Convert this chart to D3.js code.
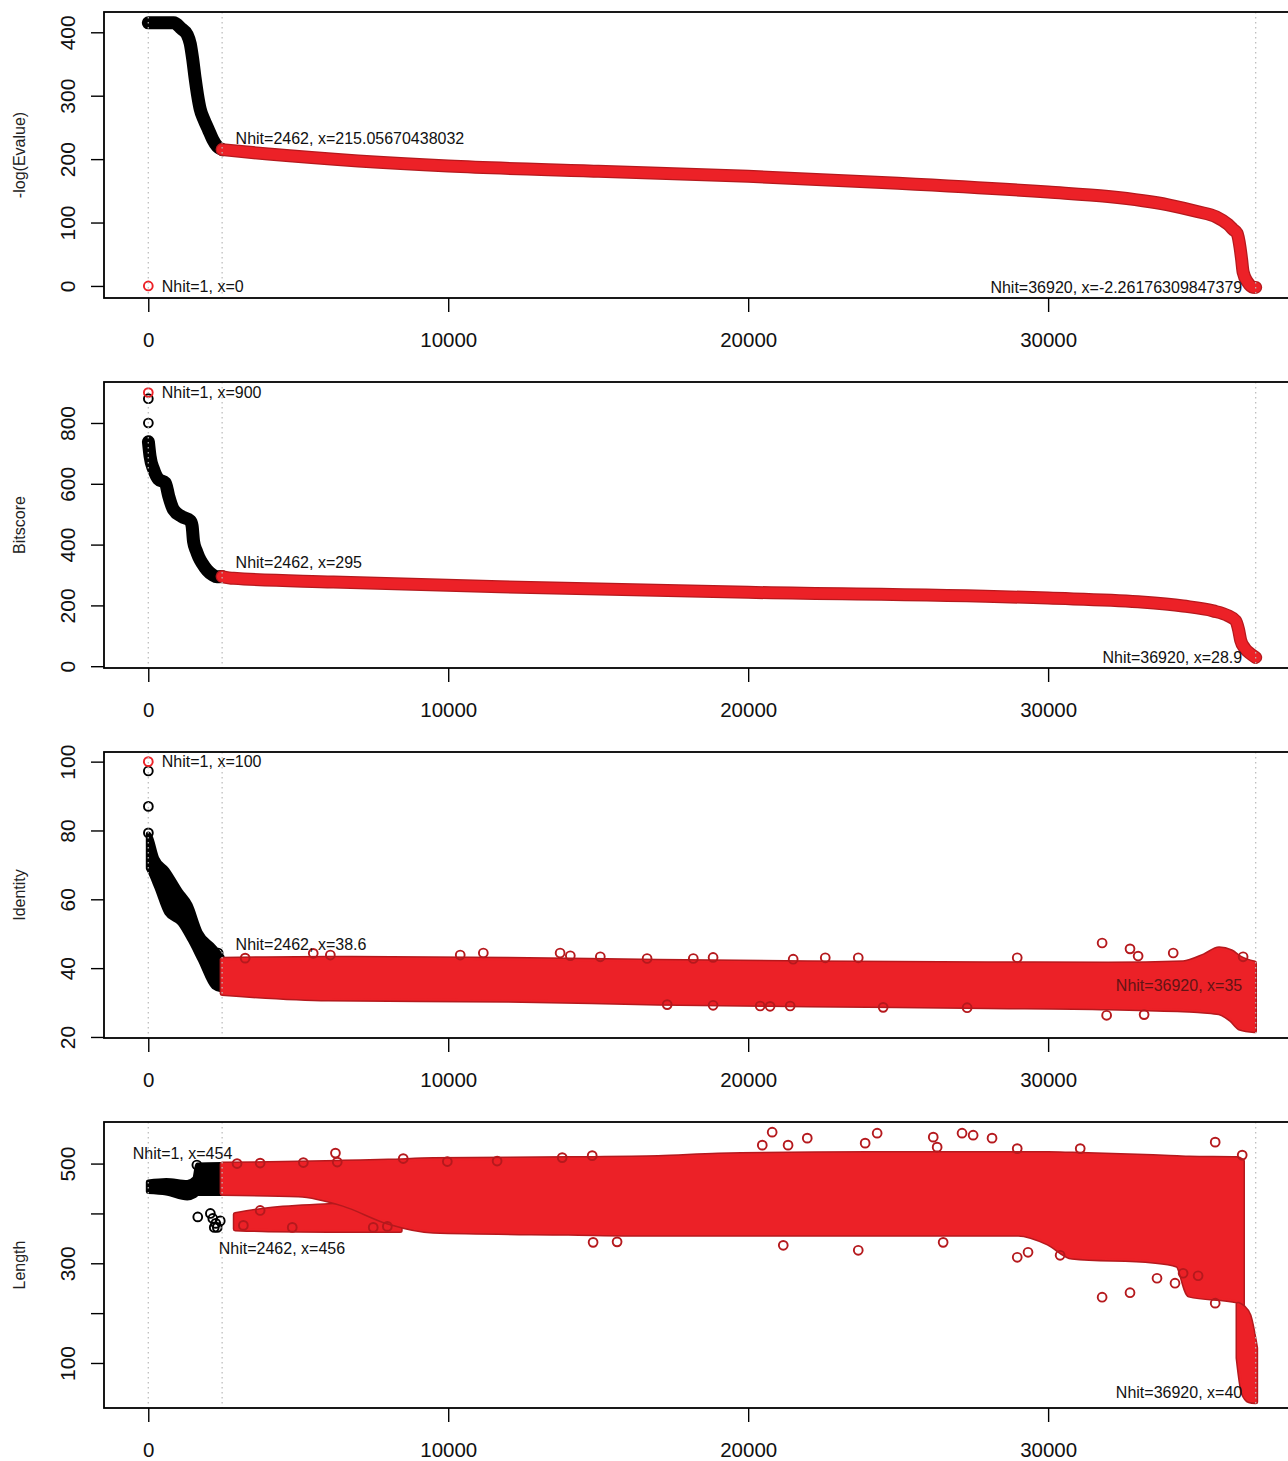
<!DOCTYPE html>
<html>
<head>
<meta charset="utf-8">
<script src="https://cdn.jsdelivr.net/npm/d3@7"></script>
<style>
  body { margin: 0; background: #fff; }
  text { font-family: "Liberation Sans", Arial, Helvetica, sans-serif; }
</style>
</head>
<body>
<div id="chart"></div>
<script>
// ---- data ----
var rankTicks = [0, 10000, 20000, 30000];
var guideRanks = [0, 2462, 36920];

// -log(Evalue) by hit rank
var evalueTicks = [0, 100, 200, 300, 400];
var evalueFirst = [[1, 0]];
var evalueBlack = [[1,415],[850,415],[1100,406],[1300,396],[1400,382],[1480,358],[1560,328],[1640,302],[1730,279],
                   [1850,263],[2000,247],[2150,231],[2300,220],[2462,215]];
var evalueRed = [[2462,215],[4000,208],[7000,197],[10000,189],[15000,181],[20000,173],[25000,162],[30000,148],
                 [32000,141],[34000,128],[35000,117],[35600,109],[36000,97],[36170,89],[36300,83],[36400,60],
                 [36450,42],[36500,22],[36650,6],[36830,-2],[36920,-2.26]];
var evalueNotes = [[1, 0, "Nhit=1, x=0", 4], [2462, 232, "Nhit=2462, x=215.05670438032", 4],
                   [36920, -2.26, "Nhit=36920, x=-2.26176309847379", 2]];

// Bitscore by hit rank
var bitTicks = [0, 200, 400, 600, 800];
var bitFirst = [[1, 900]];
var bitTopBlack = [[2, 880], [3, 800]];
var bitBlack = [[5,738],[60,690],[180,647],[340,615],[570,603],[680,560],[840,515],[1120,492],[1400,478],[1460,462],
                [1510,410],[1600,380],[1680,360],[1800,338],[1960,316],[2150,300],[2290,294],[2462,295]];
var bitRed = [[2462,295],[2840,289],[6170,277],[11730,261],[20000,243],[30000,224],[33000,212],[34500,198],
              [35500,182],[36000,166],[36250,150],[36350,120],[36420,85],[36550,60],[36730,42],[36920,28.9]];
var bitNotes = [[1, 900, "Nhit=1, x=900", 4], [2462, 343, "Nhit=2462, x=295", 4],
                [36920, 28.9, "Nhit=36920, x=28.9", 2]];

// Identity by hit rank: [rank, low, high] for the dense clouds
var identTicks = [20, 40, 60, 80, 100];
var identFirst = [[1, 100]];
var identTopBlack = [[2,97.3],[3,87],[4,79.3],[2330,44.4]];
var identBlackBand = [[1,69,79],[60,68,78.3],[280,63.5,72],[620,56,68.6],[1060,53,62.5],[1390,48.2,58.5],
                      [1730,42.4,50.5],[2180,34.6,46.2],[2462,33.6,43.3]];
var identRedBand = [[2462,32.6,42.6],[6000,31,42.9],[12000,30.7,42.6],[17000,29.8,42],[22000,29.3,41.6],[28000,28.8,41.3],
                    [32000,28.4,41.2],[34500,27.8,41.6],[35200,27.5,43.6],[35700,27,45.6],[36100,25,44.8],[36400,22.5,43],
                    [36880,21.8,41.5]];
var identRedOut = [[3230,42.9],[5500,44.3],[6070,43.8],[10400,43.8],[11170,44.4],[13730,44.4],[14070,43.6],[15070,43.3],
                   [16630,42.8],[18170,42.8],[18830,43.1],[21500,42.6],[22570,43],[23670,43],[28970,43],[31800,47.3],
                   [32730,45.6],[33000,43.5],[34170,44.4],[36500,43.3],
                   [17300,29.4],[18830,29.2],[20400,29],[20730,28.9],[21400,29],[24500,28.6],[27300,28.5],
                   [31950,26.3],[33200,26.5]];
var identNotes = [[1, 100, "Nhit=1, x=100", 4], [2462, 47, "Nhit=2462, x=38.6", 4],
                  [36920, 35, "Nhit=36920, x=35", 2]];

// Length by hit rank
var lengthTicks = [100, 200, 300, 400, 500];
var lengthTickText = ["100", "", "300", "", "500"];
var lengthBlackBand = [[1,444,463],[600,441,466],[1300,431,462],[1550,436,470],[1650,440,497],[2462,440,498]];
var lengthBlackOut = [[1620,497],[1650,393],[2070,400],[2150,390],[2200,372],[2250,380],[2300,372],[2400,385]];
var lengthRedBand = [[2462,440,499],[5000,437,501],[6500,418,503],[8000,382,505],[9500,364,508],[14000,360,510],
                     [17000,358,512],[19000,358,517],[24000,358,520],[29000,358,520],[30000,340,520],[30800,312,519],
                     [33500,304,514],[34300,296,512],[34700,236,511],[36300,224,510],[36480,214,505]];
var lengthRedLow = [[2900,369,398],[4000,367,408],[6000,366,416],[8400,366,420]];
var lengthRedTail = [[36330,110,218],[36500,40,212],[36700,24,195],[36920,22,130]];
var lengthRedOut = [[2960,500],[3730,501],[5170,502],[6240,521],[6300,503],[8500,510],[9970,504],[11630,505],
                    [13800,512],[14800,516],[20470,537],[20800,563],[21330,537],[21970,551],
                    [23900,541],[24300,561],[26170,553],[26300,533],[27130,561],[27500,557],[28130,551],[28970,530],
                    [31070,530],[35570,543],[36470,517],
                    [3170,376],[3730,406],[4800,372],[7500,372],[7970,374],[14830,342],[15630,343],[21170,336],
                    [23670,326],[26500,342],[28970,312],[29330,322],[30400,316],[31800,232],[32730,241],[33630,270],
                    [34230,260],[35570,220],[34500,280],[35000,275]];
var lengthNotes = [[-970, 520, "Nhit=1, x=454", 4], [1900, 329.5, "Nhit=2462, x=456", 4],
                   [36920, 40, "Nhit=36920, x=40", 2]];

// ---- drawing ----
var W = 1288, H = 1461;
var RED = "#ec2127", RED_EDGE = "#b5191d", BLACK = "#000";

var svg = d3.select("#chart").append("svg").attr("width", W).attr("height", H);
var x = d3.scaleLinear().domain([-1476, 38397]).range([104, 1300]);

var panels = [
  { title: "-log(Evalue)", domain: [-19, 432], ticks: evalueTicks, tickText: evalueTicks.map(String),
    lines: [[evalueBlack, BLACK, BLACK], [evalueRed, RED, RED_EDGE]], bands: [],
    dots: [[evalueFirst, RED]], notes: evalueNotes },
  { title: "Bitscore", domain: [-5.9, 934.8], ticks: bitTicks, tickText: bitTicks.map(String),
    lines: [[bitBlack, BLACK, BLACK], [bitRed, RED, RED_EDGE]], bands: [],
    dots: [[bitTopBlack, BLACK], [bitFirst, RED]], notes: bitNotes },
  { title: "Identity", domain: [19.7, 102.8], ticks: identTicks, tickText: identTicks.map(String),
    lines: [], bands: [[identBlackBand, BLACK, BLACK], [identRedBand, RED, RED_EDGE]],
    dots: [[identTopBlack, BLACK], [identRedOut, RED_EDGE], [identFirst, RED]], notes: identNotes, dimLast: true },
  { title: "Length", domain: [9.7, 583.4], ticks: lengthTicks, tickText: lengthTickText,
    lines: [], bands: [[lengthBlackBand, BLACK, BLACK], [lengthRedLow, RED, RED_EDGE],
                       [lengthRedBand, RED, RED_EDGE], [lengthRedTail, RED, RED_EDGE]],
    dots: [[lengthBlackOut, BLACK], [lengthRedOut, RED_EDGE]], notes: lengthNotes }
];

panels.forEach(function(p, i) {
  var top = 12 + i * 370, bottom = top + 286;
  var y = d3.scaleLinear().domain(p.domain).range([bottom, top]);
  var g = svg.append("g");

  var clipId = "clip" + i;
  svg.append("clipPath").attr("id", clipId).append("rect")
    .attr("x", x.range()[0]).attr("y", top)
    .attr("width", x.range()[1] - x.range()[0]).attr("height", bottom - top);
  var plot = g.append("g").attr("clip-path", "url(#" + clipId + ")");

  // dense clouds as filled bands, edged like overlapping circles
  var area = d3.area()
    .x(function(d) { return x(d[0]); })
    .y0(function(d) { return y(d[1]); })
    .y1(function(d) { return y(d[2]); })
    .curve(d3.curveMonotoneX);
  p.bands.forEach(function(b) {
    plot.append("path").datum(b[0]).attr("d", area)
      .attr("fill", b[1]).attr("stroke", b[2]).attr("stroke-width", 5)
      .attr("stroke-linejoin", "round");
    plot.append("path").datum(b[0]).attr("d", area)
      .attr("fill", b[1]).attr("stroke", b[1]).attr("stroke-width", 2)
      .attr("stroke-linejoin", "round");
  });

  // sorted curves as thick strokes of overlapping circles
  var line = d3.line()
    .x(function(d) { return x(d[0]); })
    .y(function(d) { return y(d[1]); })
    .curve(d3.curveMonotoneX);
  p.lines.forEach(function(l) {
    plot.append("path").datum(l[0]).attr("d", line).attr("fill", "none")
      .attr("stroke", l[2]).attr("stroke-width", 13)
      .attr("stroke-linecap", "round").attr("stroke-linejoin", "round");
    plot.append("path").datum(l[0]).attr("d", line).attr("fill", "none")
      .attr("stroke", l[1]).attr("stroke-width", 10.5)
      .attr("stroke-linecap", "round").attr("stroke-linejoin", "round");
  });

  // single hits
  p.dots.forEach(function(s) {
    plot.append("g").selectAll("circle").data(s[0]).enter().append("circle")
      .attr("cx", function(d) { return x(d[0]); })
      .attr("cy", function(d) { return y(d[1]); })
      .attr("r", 4.4)
      .attr("fill", "none").attr("stroke", s[1]).attr("stroke-width", 1.9);
  });

  // guide lines
  g.append("g").selectAll("line").data(guideRanks).enter().append("line")
    .attr("x1", function(d) { return x(d); }).attr("x2", function(d) { return x(d); })
    .attr("y1", top).attr("y2", bottom)
    .attr("stroke", "#b9b9b9").attr("stroke-width", 1.2).attr("stroke-dasharray", "1.5,3.5");

  // notes
  g.append("g").selectAll("text").data(p.notes).enter().append("text")
    .attr("x", function(d) { return x(d[0]) + (d[3] === 4 ? 13.5 : -13.5); })
    .attr("y", function(d) { return y(d[1]); })
    .attr("dy", "0.35em")
    .attr("text-anchor", function(d) { return d[3] === 4 ? "start" : "end"; })
    .attr("fill", function(d, k) { return (p.dimLast && k === 2) ? "#4a1212" : "#111"; })
    .attr("opacity", function(d, k) { return (p.dimLast && k === 2) ? 0.85 : 1; })
    .style("font-size", "16px")
    .text(function(d) { return d[2]; });

  // frame
  g.append("rect").attr("x", x.range()[0]).attr("y", top)
    .attr("width", x.range()[1] - x.range()[0]).attr("height", bottom - top)
    .attr("fill", "none").attr("stroke", "#000").attr("stroke-width", 1.8);

  // y axis
  var ya = g.append("g").attr("transform", "translate(" + x.range()[0] + ",0)")
    .call(d3.axisLeft(y).tickValues(p.ticks).tickSize(13)
      .tickFormat(function(d, k) { return p.tickText[k]; }));
  ya.select(".domain").remove();
  ya.attr("font-family", null).attr("font-size", null);
  ya.selectAll("line").attr("stroke", "#000").attr("stroke-width", 1.4);
  ya.selectAll("text").attr("transform", "rotate(-90)")
    .attr("x", 0).attr("y", -29.5).attr("dy", null)
    .attr("text-anchor", "middle").attr("fill", "#111")
    .style("font-size", "21px");

  // x axis
  var xa = g.append("g").attr("transform", "translate(0," + bottom + ")")
    .call(d3.axisBottom(x).tickValues(rankTicks).tickSize(14).tickFormat(d3.format("d")));
  xa.select(".domain").remove();
  xa.attr("font-family", null).attr("font-size", null);
  xa.selectAll("line").attr("stroke", "#000").attr("stroke-width", 1.4);
  xa.selectAll("text").attr("y", 42).attr("dy", "0.35em").attr("fill", "#111")
    .style("font-size", "20.5px");

  // axis title
  g.append("text")
    .attr("transform", "translate(19," + (top + bottom) / 2 + ") rotate(-90)")
    .attr("text-anchor", "middle").attr("dy", "0.35em")
    .attr("fill", "#222").style("font-size", "16px")
    .text(p.title);
});
</script>
</body>
</html>
